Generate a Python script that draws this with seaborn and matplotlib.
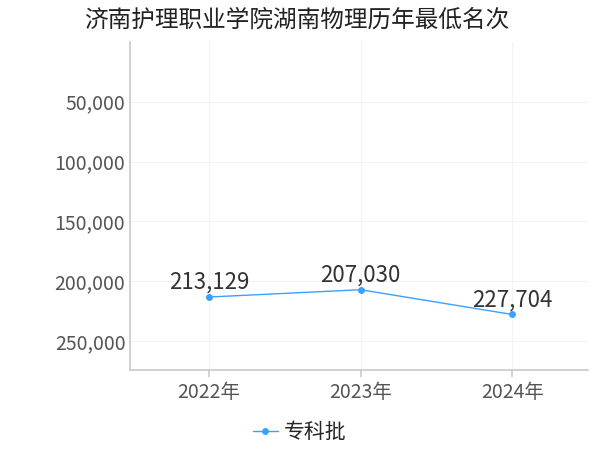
import matplotlib
matplotlib.use("Agg")
import matplotlib.pyplot as plt
import seaborn as sns
import pandas as pd
from matplotlib.ticker import FuncFormatter

years = ["2022年", "2023年", "2024年"]
ranks = [213129, 207030, 227704]
series = "专科批"

sns.set_theme(style="white")
plt.rcParams['font.family'] = ['Noto Sans CJK SC', 'DejaVu Sans']

df = pd.DataFrame({"year": years, "rank": ranks, "s": series})
fig = plt.figure(figsize=(6, 4.5), dpi=100)
ax = fig.add_axes([0.217, 0.178, 0.763, 0.729])
color = "#3aa1ff"
sns.lineplot(data=df, x="year", y="rank", hue="s", palette=[color], marker="o",
             markersize=5, markeredgewidth=0, linewidth=1, ax=ax, sort=False)
for i, v in enumerate(ranks):
    ax.text(i, v - 2500, f"{v:,}", ha="center", va="bottom", fontsize=16, color="#333333")
ax.set_xlim(-0.52, 2.5)
ax.set_ylim(274000, 0)
ax.set_yticks([50000, 100000, 150000, 200000, 250000])
ax.yaxis.set_major_formatter(FuncFormatter(lambda v, p: f"{int(v):,}"))
ax.grid(True, color="#f2f2f2", linewidth=0.8)
for s in ["top", "right"]:
    ax.spines[s].set_visible(False)
ax.spines["left"].set_color("#cccccc")
ax.spines["bottom"].set_color("#cccccc")
ax.tick_params(axis="both", labelsize=14, colors="#555555", length=0)
ax.tick_params(axis="x", bottom=True, length=5, color="#cccccc")
ax.set_xlabel("")
ax.set_ylabel("")
ax.legend(loc="upper center", bbox_to_anchor=(0.37, -0.1), frameon=False, fontsize=15,
          handlelength=1.2, handletextpad=0.3)
fig.text(0.14, 0.955, "济南护理职业学院湖南物理历年最低名次", fontsize=17, color="#222222", va="center")
fig.savefig("out.png", dpi=100)
